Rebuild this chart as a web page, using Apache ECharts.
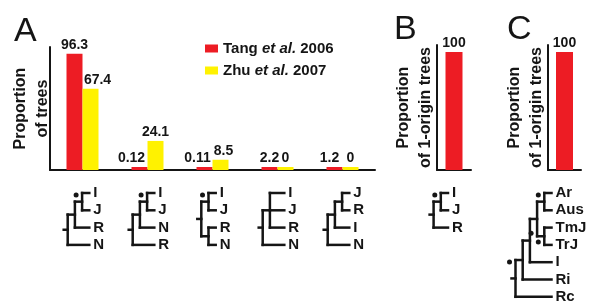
<!DOCTYPE html>
<html>
<head>
    <meta charset="utf-8">
    <title>ECharts</title>
    <script src="https://cdn.jsdelivr.net/npm/echarts/dist/echarts.min.js"></script>
    <style>
        body { margin: 0; background: #fff; }
    </style>
</head>
<body>
    <div id="main" style="width: 589px;height:304px;"></div>
    <script type="text/javascript">
        // data
        var seriesNames = ['Tang et al. 2006', 'Zhu et al. 2007'];
        var treeCats = ['t1', 't2', 't3', 't4', 't5'];
        var tangA = [96.3, 0.12, 0.11, 2.2, 1.2];
        var zhuA = [67.4, 24.1, 8.5, 0, 0];
        var catB = ['b'];
        var oneOriginB = [100];
        var catC = ['c'];
        var oneOriginC = [100];

        // mark a node with a filled dot (top-left or bottom-left of its bar)
        function D(kids, pos) { kids.dot = pos || 'top'; return kids; }

        // tree topologies drawn under each bar group
        var treesA = [
            [[D(['I', 'J']), 'R'], 'N'],
            [[D(['I', 'J']), 'N'], 'R'],
            [D(['I', 'J']), ['R', 'N']],
            [['I', 'J', 'R'], 'N'],
            [[['J', 'R'], 'I'], 'N']
        ];
        var treeB = [D(['I', 'J']), 'R'];
        var treeC = D([[[D([D(['Ar', 'Aus']), D(['TmJ', 'TrJ'], 'bottom')], 'bottom'), 'I'], 'Ri'], 'Rc']);

        // small label nudges so numbers don't sit on top of each other
        var tangShift = [0, -8, -7, 0, -5];
        var zhuShift = [7, 0, 3, 0, 0];

        var RED = '#ED1C24', YEL = '#FFF200', INK = '#151515';
        var FONT = 'Liberation Sans, Arial, sans-serif';

        var myChart = echarts.init(document.getElementById('main'));

        function axisPair(gi, cats, max, name, gap) {
            return {
                x: {
                    type: 'category', gridIndex: gi, data: cats,
                    axisLine: { lineStyle: { color: INK, width: 2 } },
                    axisTick: { show: false }, axisLabel: { show: false }
                },
                y: {
                    type: 'value', gridIndex: gi, min: 0, max: max,
                    splitLine: { show: false }, axisTick: { show: false }, axisLabel: { show: false },
                    axisLine: { show: true, lineStyle: { color: INK, width: 2 } },
                    name: name, nameLocation: 'middle', nameRotate: 90, nameGap: gap,
                    nameTextStyle: { fontSize: 16, fontWeight: 'bold', color: INK, lineHeight: 22, fontFamily: FONT }
                }
            };
        }
        var aA = axisPair(0, treeCats, 102, 'Proportion\nof trees', -4);
        var aB = axisPair(1, catB, 106, 'Proportion\nof 1-origin trees', 0);
        var aC = axisPair(2, catC, 106, 'Proportion\nof 1-origin trees', 0);

        function barLabel(shift) {
            return function (v, i) {
                return { value: v, label: { offset: [shift[i], 0] } };
            };
        }
        var labelStyle = { show: true, position: 'top', distance: 2, fontSize: 14, fontWeight: 'bold', color: INK, fontFamily: FONT };

        var option = {
            animation: false,
            textStyle: { fontFamily: FONT },
            grid: [
                { left: 50, top: 47, width: 325, height: 123 },
                { left: 437, top: 45, width: 34, height: 125 },
                { left: 548, top: 45, width: 33, height: 125 }
            ],
            xAxis: [aA.x, aB.x, aC.x],
            yAxis: [aA.y, aB.y, aC.y],
            legend: {
                orient: 'vertical', left: 205, top: 41, padding: 0,
                itemWidth: 13, itemHeight: 8, itemGap: 7,
                icon: 'rect', data: seriesNames,
                formatter: function (name) {
                    var p = name.split(' et al. ');
                    return p[0] + ' {i|et al.} ' + p[1];
                },
                textStyle: {
                    fontSize: 15, fontWeight: 'bold', color: INK, fontFamily: FONT,
                    rich: { i: { fontSize: 15, fontWeight: 'bold', fontStyle: 'italic', color: INK, fontFamily: FONT } }
                }
            },
            series: [
                {
                    name: seriesNames[0], type: 'bar', xAxisIndex: 0, yAxisIndex: 0,
                    data: tangA.map(barLabel(tangShift)), barWidth: 16, barGap: '0%', barMinHeight: 3,
                    itemStyle: { color: RED }, label: labelStyle
                },
                {
                    name: seriesNames[1], type: 'bar', xAxisIndex: 0, yAxisIndex: 0,
                    data: zhuA.map(barLabel(zhuShift)), barWidth: 16, barGap: '0%', barMinHeight: 3,
                    itemStyle: { color: YEL }, label: labelStyle
                },
                {
                    name: 'B', type: 'bar', xAxisIndex: 1, yAxisIndex: 1, data: oneOriginB,
                    barWidth: 17, itemStyle: { color: RED }, label: labelStyle
                },
                {
                    name: 'C', type: 'bar', xAxisIndex: 2, yAxisIndex: 2, data: oneOriginC,
                    barWidth: 17, itemStyle: { color: RED }, label: labelStyle
                }
            ]
        };
        myChart.setOption(option);

        // ---- trees, placed relative to the bars' pixel positions ----
        var DX = 7.2, DY = 17.3, Y0 = 193;
        function height(n) {
            if (typeof n === 'string') return 0;
            var m = 0;
            n.forEach(function (c) { m = Math.max(m, height(c)); });
            return m + n.length - 1;
        }
        function seg(x1, y1, x2, y2) {
            return { type: 'line', shape: { x1: x1, y1: y1, x2: x2, y2: y2 },
                style: { stroke: INK, lineWidth: 2.5, lineCap: 'square' }, silent: true };
        }
        function drawTree(tree, tipX, out) {
            var leaf = 0;
            function walk(n) {
                if (typeof n === 'string') {
                    var y = Y0 + DY * leaf++;
                    out.push({ type: 'text', x: tipX + 4, y: y, silent: true,
                        style: { text: n, font: 'bold 15px ' + FONT, fill: INK, textVerticalAlign: 'middle' } });
                    return { x: tipX, y: y };
                }
                var pts = n.map(walk);
                var x = tipX - DX * height(n);
                pts.forEach(function (p) { out.push(seg(x, p.y, p.x, p.y)); });
                var yT = pts[0].y, yB = pts[pts.length - 1].y;
                out.push(seg(x, yT, x, yB));
                if (n.dot) {
                    out.push({ type: 'circle', silent: true,
                        shape: { cx: x - 6, cy: n.dot === 'top' ? yT + 2 : yB - 3, r: 2.5 },
                        style: { fill: INK } });
                }
                return { x: x, y: (yT + yB) / 2 };
            }
            var r = walk(tree);
            out.push(seg(r.x - 4, r.y, r.x, r.y));
        }

        var g = [];
        treesA.forEach(function (t, i) {
            var cx = myChart.convertToPixel({ xAxisIndex: 0 }, treeCats[i]);
            drawTree(t, cx + (DX * height(t) - 8) / 2, g);
        });
        drawTree(treeB, myChart.convertToPixel({ xAxisIndex: 1 }, catB[0]) - 6, g);
        drawTree(treeC, myChart.convertToPixel({ xAxisIndex: 2 }, catC[0]) - 13, g);

        // panel letters
        [['A', 14, 15], ['B', 394, 13], ['C', 507, 13]].forEach(function (p) {
            g.push({ type: 'text', x: p[1], y: p[2], silent: true,
                style: { text: p[0], font: '34px ' + FONT, fill: INK } });
        });

        myChart.setOption({ graphic: g });
    </script>
</body>
</html>
